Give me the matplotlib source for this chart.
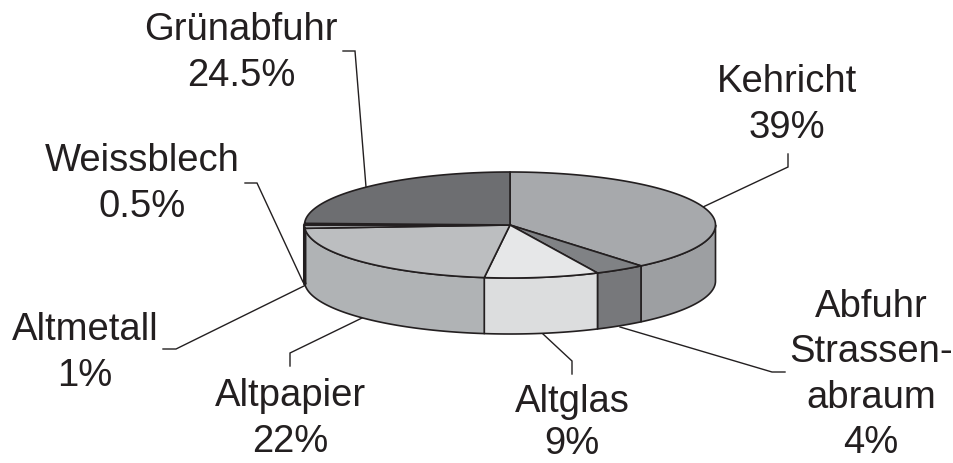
import numpy as np
import matplotlib
matplotlib.use('Agg')
import matplotlib.pyplot as plt
from matplotlib.patches import Polygon

plt.rcParams['font.family'] = ['Liberation Sans', 'DejaVu Sans']

# Anteile in Prozent, im Uhrzeigersinn ab 12 Uhr
namen = ['Kehricht', 'Abfuhr Strassenabraum', 'Altglas', 'Altpapier', 'Altmetall', 'Weissblech', 'Grünabfuhr']
anteile = [39, 4, 9, 22, 1, 0.5, 24.5]
etiketten = ['Kehricht\n39%', 'Abfuhr\nStrassen-\nabraum\n4%', 'Altglas\n9%', 'Altpapier\n22%',
             'Altmetall\n1%', 'Weissblech\n0.5%', 'Grünabfuhr\n24.5%']

farbe_oben = ['#a7a9ac', '#808285', '#e6e7e8', '#bcbec0', '#a9abae', '#939598', '#6d6e71']
farbe_seite = ['#9d9fa2', '#77787b', '#dcddde', '#b0b3b5', '#b0b3b5', '#b0b3b5', '#58595b']

# Ellipse in Pixeln
cx, cy = 510, 225
a, b = 205.5, 53
tiefe = 56

# Textpositionen und Fuehrungslinien
text_pos = [(787, 105), (871, 375), (572, 423), (290, 419), (85, 353), (142, 184), (241, 53)]
zeilen = [1.33, 1.33, 1.25, 1.33, 1.33, 1.33, 1.33]  # Altglas enger, sonst unten abgeschnitten
linien = [
    [(788, 154), (788, 167), (703, 207)],
    [(785, 372), (772, 372), (620, 327)],
    [(572, 374), (572, 361), (543, 334)],
    [(290, 366), (290, 353), (362, 318)],
    [(163, 349), (176, 349), (306, 285)],
    [(245, 183), (257, 183), (303, 282)],
    [(343, 51), (355, 51), (366, 187)],
]


def rand(w):
    w = np.asarray(w)
    return cx + a * np.sin(w), cy - b * np.cos(w)


fig = plt.figure(figsize=(9.54, 4.63), dpi=100)
ax = fig.add_axes([0, 0, 1, 1])
ax.set_xlim(0, 954)
ax.set_ylim(463, 0)
ax.axis('off')

grenzen = np.radians(np.cumsum([0] + anteile) * 3.6)

# Seitenwand, nur der vordere Teil (90 bis 270 Grad ist sichtbar)
for i in range(len(anteile)):
    w0 = max(grenzen[i], np.pi / 2)
    w1 = min(grenzen[i + 1], 3 * np.pi / 2)
    if w1 <= w0:
        continue
    w = np.linspace(w0, w1, 80)
    x, y = rand(w)
    pts = np.r_[np.c_[x, y], np.c_[x[::-1], y[::-1] + tiefe]]
    breite = 2.2 if anteile[i] <= 1 else 1.2
    ax.add_patch(Polygon(pts, closed=True, fc=farbe_seite[i], ec='#231f20', lw=breite, joinstyle='round', zorder=2))

# Deckel
for i in range(len(anteile)):
    w = np.linspace(grenzen[i], grenzen[i + 1], 120)
    x, y = rand(w)
    pts = np.r_[[(cx, cy)], np.c_[x, y]]
    ax.add_patch(Polygon(pts, closed=True, fc=farbe_oben[i], ec='#231f20', lw=1.2, joinstyle='round', zorder=3))

for lin in linien:
    xs, ys = zip(*lin)
    ax.plot(xs, ys, color='#231f20', lw=1.0, zorder=1, solid_joinstyle='miter')

for txt, (tx, ty), z in zip(etiketten, text_pos, zeilen):
    ax.text(tx, ty, txt, ha='center', va='center', fontsize=27.5, color='#231f20', linespacing=z)

fig.savefig('out.png', dpi=100)
